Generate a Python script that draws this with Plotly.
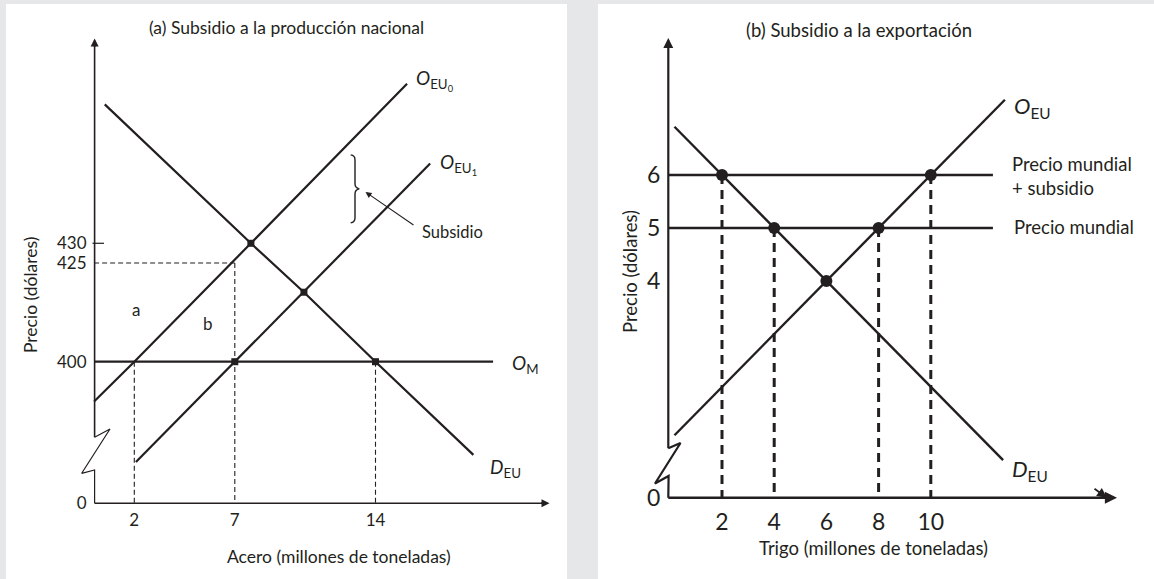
import plotly.graph_objects as go

W, H = 1154, 579
FONT = "Lato"
INK = "#231f20"
BG = "#e6e7e8"

# ---------------- Panel (a) data ----------------
a_demand_q = [0.53, 7.8, 10.44, 14, 18.87]
a_demand_p = [465.2, 430, 417.6, 400, 376.4]
a_sup0_q = [0, 2, 7.8, 15.57]
a_sup0_p = [389.9, 400, 430, 470.4]
a_sup1_q = [2.08, 7, 10.44, 16.72]
a_sup1_p = [374.6, 400, 417.6, 450.2]
a_world_q = [0, 19.85]
a_world_p = [400, 400]
a_dots_q = [7.8, 10.44, 7, 14]
a_dots_p = [430, 417.6, 400, 400]
a_xticks = [2, 7, 14]
a_xtick_text = ["2", "7", "14"]
a_ytick_text = ["0", "400", "425", "430"]
a_yticks_real = [400, 425, 430]
a_world_price = 400
a_subsidized_price = 425
a_imports_q = [2, 7, 14]
a_brace_q = 12.98
a_brace_p = [435.2, 452.4]

# ---------------- Panel (b) data ----------------
b_supply_q = [0.18, 6, 8, 10, 12.84]
b_supply_p = [1.09, 4, 5, 6, 7.42]
b_demand_q = [0.18, 2, 4, 6, 12.77]
b_demand_p = [6.91, 6, 5, 4, 0.62]
b_price_world = 5
b_price_subsidy = 6
b_price_line_end = 12.38
b_dots_q = [2, 10, 4, 8, 6]
b_dots_p = [6, 6, 5, 5, 4]
b_drop_q = [2, 4, 8, 10]
b_drop_p = [6, 5, 5, 6]
b_xticks = [2, 4, 6, 8, 10]
b_xtick_text = ["2", "4", "6", "8", "10"]
b_yticks_real = [4, 5, 6]
b_ytick_text = ["0", "4", "5", "6"]

# ---------------- pixel geometry ----------------
A_X0, A_SX, A_Y0, A_SY = 94.1, 20.1, 361.7, 3.947
A_AXIS_PX, A_AXIS_PY, A_TOP_PY, A_RIGHT_PX = 94.6, 503.3, 38.5, 549.5
A_LEFT, A_RIGHT = 6, 567
B_X0, B_SX, B_Y0, B_SY = 669.8, 26.1, 281.0, 53.0
B_AXIS_PX, B_AXIS_PY, B_TOP_PY, B_RIGHT_PX = 668.3, 497.7, 38, 1117
B_LEFT, B_RIGHT = 598, 1154
TOP, BOT = 4, 579


def a_q(px):
    return (px - A_X0) / A_SX


def a_p(py):
    return 400 + (A_Y0 - py) / A_SY


def b_q(px):
    return (px - B_X0) / B_SX


def b_p(py):
    return 4 + (B_Y0 - py) / B_SY


a_bottom = a_p(A_AXIS_PY)
b_bottom = b_p(B_AXIS_PY)
a_axq = a_q(A_AXIS_PX)
b_axq = b_q(B_AXIS_PX)

fig = go.Figure()


def line(x, y, xa, ya, width=2, dash=None, color=INK):
    fig.add_trace(go.Scatter(x=x, y=y, mode="lines", xaxis=xa, yaxis=ya,
                             line=dict(color=color, width=width, dash=dash),
                             hoverinfo="skip", showlegend=False))


# ---- panel (a) ----
XA, YA = "x", "y"
line([a_axq, a_axq], [a_p(437.3), a_p(A_TOP_PY + 6)], XA, YA, 1.6)
line([a_axq, a_q(110), a_q(81.7), a_q(94.6), a_axq],
     [a_p(437.3), a_p(429), a_p(473.3), a_p(470), a_bottom], XA, YA, 1.2)
line([a_axq, a_q(A_RIGHT_PX - 6)], [a_bottom, a_bottom], XA, YA, 1.6)
line([a_q(92.5), a_q(104)], [430, 430], XA, YA, 1.2)
line([0, a_imports_q[1]], [a_subsidized_price] * 2, XA, YA, 1.1, "5px,3px")
line([a_imports_q[0]] * 2, [a_world_price, a_bottom], XA, YA, 1.1, "5px,3px")
line([a_imports_q[1]] * 2, [a_subsidized_price, a_bottom], XA, YA, 1.1, "5px,3px")
line([a_imports_q[2]] * 2, [a_world_price, a_bottom], XA, YA, 1.1, "5px,3px")
line(a_world_q, a_world_p, XA, YA, 2.2)
line(a_sup0_q, a_sup0_p, XA, YA, 2.2)
line(a_sup1_q, a_sup1_p, XA, YA, 2.2)
line(a_demand_q, a_demand_p, XA, YA, 2.2)
fig.add_trace(go.Scatter(x=a_dots_q, y=a_dots_p, mode="markers", xaxis=XA, yaxis=YA,
                         marker=dict(symbol="square", size=7, color=INK),
                         hoverinfo="skip", showlegend=False))

# ---- panel (b) ----
XB, YB = "x2", "y2"
line([b_axq, b_axq], [b_p(448.3), b_p(B_TOP_PY + 6)], XB, YB, 2.2)
line([b_axq, b_q(680.5), b_q(655), b_q(668.6), b_axq],
     [b_p(448.3), b_p(443), b_p(483.5), b_p(476), b_bottom], XB, YB, 2.2)
line([b_axq, b_q(B_RIGHT_PX - 10)], [b_bottom, b_bottom], XB, YB, 2.4)
for q, p in zip(b_drop_q, b_drop_p):
    line([q, q], [p, b_bottom], XB, YB, 3, "9px,6px")
line([b_axq, b_price_line_end], [b_price_subsidy] * 2, XB, YB, 2.6)
line([b_axq, b_price_line_end], [b_price_world] * 2, XB, YB, 2.6)
line(b_supply_q, b_supply_p, XB, YB, 2.4)
line(b_demand_q, b_demand_p, XB, YB, 2.4)
fig.add_trace(go.Scatter(x=b_dots_q, y=b_dots_p, mode="markers", xaxis=XB, yaxis=YB,
                         marker=dict(symbol="circle", size=12, color=INK),
                         hoverinfo="skip", showlegend=False))

# ---- brace (panel a) ----
bx = a_brace_q
p_lo, p_hi = a_brace_p
p_mid = (p_lo + p_hi) / 2
dx_out = 4.3 / A_SX
dx_in = 4.3 / A_SX
c = 5 / A_SY
brace = (f"M {bx - dx_in},{p_hi} Q {bx},{p_hi - 0.1} {bx},{p_hi - c} "
         f"L {bx},{p_mid + c} Q {bx},{p_mid + 0.2} {bx + dx_out},{p_mid} "
         f"Q {bx},{p_mid - 0.2} {bx},{p_mid - c} "
         f"L {bx},{p_lo + c} Q {bx},{p_lo + 0.1} {bx - dx_in},{p_lo}")
fig.add_shape(type="path", path=brace, xref="x", yref="y",
              line=dict(color=INK, width=1.4))

ann = []


def text(x, y, s, xr, yr, size, xanchor="center", yanchor="middle", angle=0, align="center"):
    ann.append(dict(x=x, y=y, xref=xr, yref=yr, text=s, showarrow=False,
                    xanchor=xanchor, yanchor=yanchor, textangle=angle, align=align,
                    font=dict(family=FONT, size=size, color=INK)))


def arrow(x, y, ax, ay, xr, yr, width=1.6, size=1.0, head=2):
    ann.append(dict(x=x, y=y, ax=ax, ay=ay, xref=xr, yref=yr, axref=xr, ayref=yr,
                    text="", showarrow=True, arrowhead=head, arrowsize=size,
                    arrowwidth=width, arrowcolor=INK, standoff=0, startstandoff=0))


arrow(a_axq, a_p(A_TOP_PY), a_axq, a_p(A_TOP_PY + 10), "x", "y", 1.6, 1.0)
arrow(a_q(A_RIGHT_PX), a_bottom, a_q(A_RIGHT_PX - 10), a_bottom, "x", "y", 1.6, 1.0)
arrow(b_axq, b_p(B_TOP_PY), b_axq, b_p(B_TOP_PY + 10), "x2", "y2", 2.2, 0.9)
arrow(b_q(B_RIGHT_PX), b_bottom, b_q(B_RIGHT_PX - 14), b_bottom, "x2", "y2", 2.2, 1.1)
arrow(b_q(B_RIGHT_PX - 10), b_bottom, b_q(B_RIGHT_PX - 24), b_p(B_AXIS_PY - 10), "x2", "y2", 1.8, 1.1)
arrow(a_q(365.5), a_p(192), a_q(415), a_p(226), "x", "y", 1.1, 1.1)

# panel (a) texts
text(a_q(286), a_p(28), "(a) Subsidio a la producción nacional", "x", "y", 17.5)
text(a_q(414), a_p(80), "<i>O</i><sub>EU<sub>0</sub></sub>", "x", "y", 19, "left")
text(a_q(438), a_p(164), "<i>O</i><sub>EU<sub>1</sub></sub>", "x", "y", 19, "left")
text(a_q(420), a_p(232), "Subsidio", "x", "y", 16.5, "left")
text(a_q(510), a_p(364), "<i>O</i><sub>M</sub>", "x", "y", 19, "left")
text(a_q(488), a_p(468), "<i>D</i><sub>EU</sub>", "x", "y", 19, "left")
text(a_q(136), a_p(309), "a", "x", "y", 17)
text(a_q(208), a_p(323), "b", "x", "y", 17)
text(a_q(338.5), a_p(556), "Acero (millones de toneladas)", "x", "y", 17.5)
text(a_q(30), a_p(295), "Precio (dólares)", "x", "y", 17.5, angle=-90)

# panel (b) texts
text(b_q(858.5), b_p(30), "(b) Subsidio a la exportación", "x2", "y2", 18.5)
text(b_q(1012), b_p(107), "<i>O</i><sub>EU</sub>", "x2", "y2", 22, "left")
text(b_q(1010), b_p(176), "Precio mundial<br>+ subsidio", "x2", "y2", 18.5, "left", align="left")
text(b_q(1012), b_p(227), "Precio mundial", "x2", "y2", 18.5, "left")
text(b_q(1010), b_p(470), "<i>D</i><sub>EU</sub>", "x2", "y2", 22, "left")
text(b_q(873.5), b_p(548), "Trigo (millones de toneladas)", "x2", "y2", 18.5)
text(b_q(630), b_p(272), "Precio (dólares)", "x2", "y2", 18.5, angle=-90)


def ax_common(**kw):
    d = dict(showgrid=False, zeroline=False, showline=False, ticks="",
             fixedrange=True, tickmode="array", anchor="free")
    d.update(kw)
    return d


fig.update_layout(
    width=W, height=H, margin=dict(l=0, r=0, t=0, b=0),
    paper_bgcolor=BG, plot_bgcolor="white", showlegend=False,
    annotations=ann,
    xaxis=ax_common(domain=[A_LEFT / W, A_RIGHT / W],
                    range=[a_q(A_LEFT), a_q(A_RIGHT)],
                    position=(H - A_AXIS_PY) / H,
                    tickvals=a_xticks, ticktext=a_xtick_text,
                    ticklabelstandoff=5,
                    tickfont=dict(family=FONT, size=17, color=INK)),
    yaxis=ax_common(domain=[(H - BOT) / H, (H - TOP) / H],
                    range=[a_p(BOT), a_p(TOP)],
                    position=A_AXIS_PX / W,
                    tickvals=[a_bottom] + a_yticks_real, ticktext=a_ytick_text,
                    ticklabelstandoff=8,
                    tickfont=dict(family=FONT, size=17, color=INK)),
    xaxis2=ax_common(domain=[B_LEFT / W, B_RIGHT / W],
                     range=[b_q(B_LEFT), b_q(B_RIGHT)],
                     position=(H - B_AXIS_PY) / H,
                     tickvals=b_xticks, ticktext=b_xtick_text,
                     ticklabelstandoff=8,
                     tickfont=dict(family=FONT, size=23, color=INK)),
    yaxis2=ax_common(domain=[(H - BOT) / H, (H - TOP) / H],
                     range=[b_p(BOT), b_p(TOP)],
                     position=B_AXIS_PX / W,
                     tickvals=[b_bottom] + b_yticks_real, ticktext=b_ytick_text,
                     ticklabelstandoff=8,
                     tickfont=dict(family=FONT, size=23, color=INK)),
)

fig.write_html("out.html", config={"displayModeBar": False},
               post_script="document.body.style.margin='0';document.body.style.overflow='hidden';")
